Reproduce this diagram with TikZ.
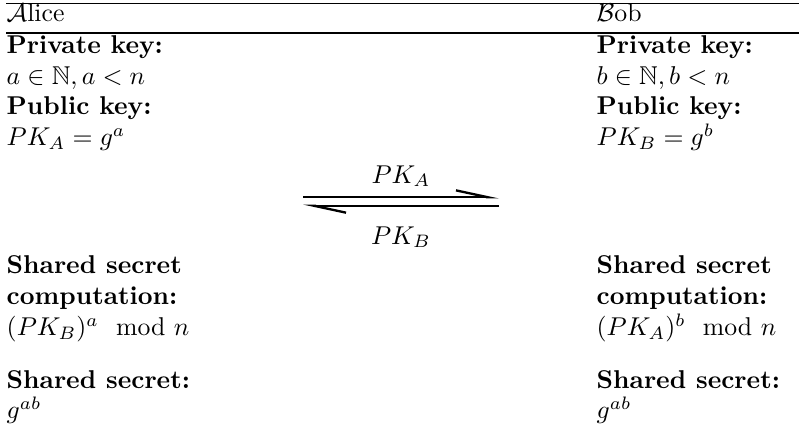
\documentclass[tikz,border=0pt]{standalone}
\usepackage{amsmath}
\usepackage{amssymb}
\usepackage{tikz}
\usetikzlibrary{arrows.meta}

\tikzset{
  txt/.style={anchor=base west, inner sep=0pt},
  hdr/.style={txt, font=\bfseries},
  rule/.style={line width=0.6pt},
  msg/.style={line width=0.7pt, -{Straight Barb[left, length=12.5pt, width=5.4pt, line width=0.9pt]}},
  msglabel/.style={anchor=base, inner sep=0pt}
}

\begin{document}
\begin{tikzpicture}
  \useasboundingbox (0,0) rectangle (10.909,-5.967);
  % header rules
  \coordinate (topl) at (0.085,-0.045);
  \coordinate (topr) at (10.909,-0.045);
  \coordinate (midl) at (0.085,-0.451);
  \coordinate (midr) at (10.909,-0.451);
  \draw[rule] (topl) -- (topr);
  \draw[rule] (midl) -- (midr);
  % parties
  \node[txt] (alice) at (0.085,-0.300) {$\mathcal{A}$lice};
  \node[txt] (bob) at (8.14,-0.300) {$\mathcal{B}$ob};
  % both columns
  \foreach \x/\own/\Own/\peer in {0.085/a/A/B, 8.14/b/B/A}{
    \node[hdr] (\own-priv) at (\x,-0.724) {Private key:};
    \node[txt] (\own-privval) at (\x,-1.147) {$\own\in\mathbb{N}, \own<n$};
    \node[hdr] (\own-pub) at (\x,-1.570) {Public key:};
    \node[txt] (\own-pubval) at (\x,-1.992) {$PK_\Own = g^\own$};
    \node[hdr] (\own-comp) at (\x,-3.741) {Shared secret};
    \node[hdr] (\own-compb) at (\x,-4.163) {computation:};
    \node[txt] (\own-compval) at (\x,-4.585) {$(PK_\peer)^\own \mod n$};
    \node[hdr] (\own-sec) at (\x,-5.298) {Shared secret:};
    \node[txt] (\own-secval) at (\x,-5.719) {$g^{ab}$};
  }
  % key exchange
  \coordinate (aout) at (4.137,-2.694);
  \coordinate (bin) at (6.813,-2.694);
  \coordinate (bout) at (6.813,-2.809);
  \coordinate (ain) at (4.137,-2.809);
  \draw[msg] (aout) -- (bin);
  \draw[msg] (bout) -- (ain);
  \node[msglabel] (pka) at (5.475,-2.499) {$PK_A$};
  \node[msglabel] (pkb) at (5.475,-3.332) {$PK_B$};
\end{tikzpicture}
\end{document}
